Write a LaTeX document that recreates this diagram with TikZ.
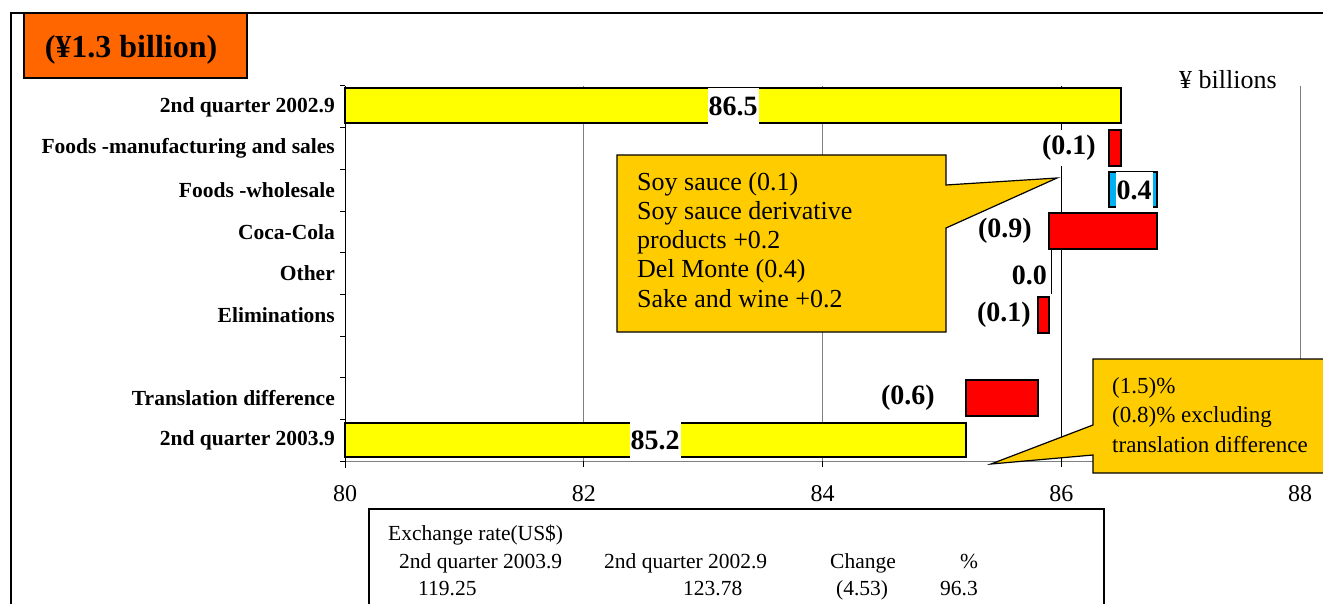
\documentclass[tikz,border=0pt]{standalone}
\usepackage{fontspec}
\setmainfont{Liberation Serif}
\definecolor{barred}{RGB}{255,0,0}
\definecolor{baryellow}{RGB}{255,255,0}
\definecolor{barcyan}{RGB}{0,176,240}
\definecolor{boxorange}{RGB}{255,102,0}
\definecolor{boxgold}{RGB}{255,204,0}
\tikzset{
  catlabel/.style={anchor=east, inner sep=0pt, font=\fontsize{21.5}{24}\selectfont\bfseries},
  vallabel/.style={fill=white, inner sep=1pt, minimum height=36pt, font=\fontsize{28}{30}\selectfont\bfseries},
  ticklabel/.style={anchor=base, inner sep=0pt, font=\fontsize{24}{26}\selectfont},
  tabtext/.style={anchor=base west, inner sep=0pt, font=\fontsize{21.5}{24}\selectfont},
  calltext/.style={anchor=north west, inner sep=0pt, align=left},
  bar/.style={draw=black, line width=2pt},
  totalbar/.style={bar, fill=baryellow},
  downbar/.style={bar, fill=barred},
  upbar/.style={bar, fill=barcyan},
  gridline/.style={draw=black!50, line width=0.9pt},
  axisline/.style={draw=black, line width=1pt},
  callout/.style={fill=boxgold, draw=black, line width=1.2pt}
}
\begin{document}
\begin{tikzpicture}[x=1pt,y=-1pt]
  \useasboundingbox (0,0) rectangle (1323,604);
  %FRAME
  \draw[axisline, line width=1.3pt] (11,610) -- (11,13) -- (1323,13);
  \draw[fill=boxorange, draw=black, line width=1.5pt] (24,13) rectangle (247,78);
  \node[inner sep=0pt, font=\fontsize{32}{34}\selectfont\bfseries] (title) at (131,50) {(¥1.3 billion)};
  \node[anchor=base west, inner sep=0pt, font=\fontsize{26}{28}\selectfont] (unit) at (1179,89) {¥ billions};

  %AXES
  \begin{scope}[x=119.4pt, xshift=-9207pt]
    \foreach \v in {82,84,88}
      \draw[gridline] (\v,86) -- (\v,461);
    \draw[axisline, line width=0.9pt] (86,86) -- (86,461);
    \draw[gridline] (80,461) -- (88,461);
    \foreach \v in {80,82,...,88}{
      \draw[axisline] (\v,461) -- (\v,467);
      \node[ticklabel] (tick\v) at (\v,501) {\v};
    }
    %BARS
    \draw[totalbar] (80,88) rectangle (86.5,123);
    \draw[downbar] (86.4,130) rectangle (86.5,166);
    \draw[upbar] (86.4,172) rectangle (86.8,207);
    \draw[downbar] (85.9,213) rectangle (86.8,249);
    \draw[bar, line width=1.2pt] (85.92,249) -- (85.92,294);
    \draw[downbar] (85.8,297) rectangle (85.9,333);
    \draw[downbar] (85.2,380) rectangle (85.8,416);
    \draw[totalbar] (80,423) rectangle (85.2,457);
  \end{scope}
  \draw[axisline] (345,86) -- (345,468);
  \foreach \k in {0,...,9}
    \draw[axisline] (340,{86+41.67*\k}) -- (345,{86+41.67*\k});

  %CATEGORIES
  \foreach \t/\r in {2nd quarter 2002.9/0, Foods -manufacturing and sales/1, Foods -wholesale/2,
      Coca-Cola/3, Other/4, Eliminations/5, Translation difference/7, 2nd quarter 2003.9/8}
    \node[catlabel] (cat\r) at (335,{86+41.67*(\r+0.5)}) {\t};

  %VALUES
  \node[vallabel] (q2) at (733,106) {86.5};
  \node[vallabel, anchor=east] (fm) at (1097,148) {(0.1)};
  \node[vallabel] (fw) at (1134,190) {0.4};
  \node[vallabel, anchor=east] (cc) at (1033,231) {(0.9)};
  \node[vallabel, anchor=east] (ot) at (1048,275) {0.0};
  \node[vallabel, anchor=east] (el) at (1032,315) {(0.1)};
  \node[vallabel, anchor=east] (td) at (936,398) {(0.6)};
  \node[vallabel] (q3) at (655,440) {85.2};

  %CALLOUTS
  \draw[callout] (617,155) -- (946,155) -- (946,185) -- (1057,178) -- (946,228) -- (946,332) -- (617,332) -- cycle;
  \node[calltext, font=\fontsize{26}{29.25}\selectfont] (soy) at (637,172)
    {Soy sauce (0.1)\\Soy sauce derivative\\products +0.2\\Del Monte (0.4)\\Sake and wine +0.2};
  \draw[callout] (1093,359) -- (1340,359) -- (1340,473) -- (1093,473) -- (1093,455) -- (991,464) -- (1093,425) -- cycle;
  \node[calltext, font=\fontsize{23}{29.5}\selectfont] (pct) at (1112,377)
    {(1.5)\%\\(0.8)\% excluding\\translation difference};

  %TABLE
  \draw[axisline, line width=1.3pt] (369,615) -- (369,509) -- (1104,509) -- (1104,615);
  \node[tabtext] (rate) at (388,540) {Exchange rate(US\$)};
  \node[tabtext] (h1) at (399,568) {2nd quarter 2003.9};
  \node[tabtext] (h2) at (604,568) {2nd quarter 2002.9};
  \node[tabtext] (h3) at (830,568) {Change};
  \node[tabtext] (h4) at (960,568) {\%};
  \node[tabtext] (d1) at (418,595) {119.25};
  \node[tabtext] (d2) at (683,595) {123.78};
  \node[tabtext] (d3) at (836,595) {(4.53)};
  \node[tabtext] (d4) at (940,595) {96.3};
\end{tikzpicture}
\end{document}
